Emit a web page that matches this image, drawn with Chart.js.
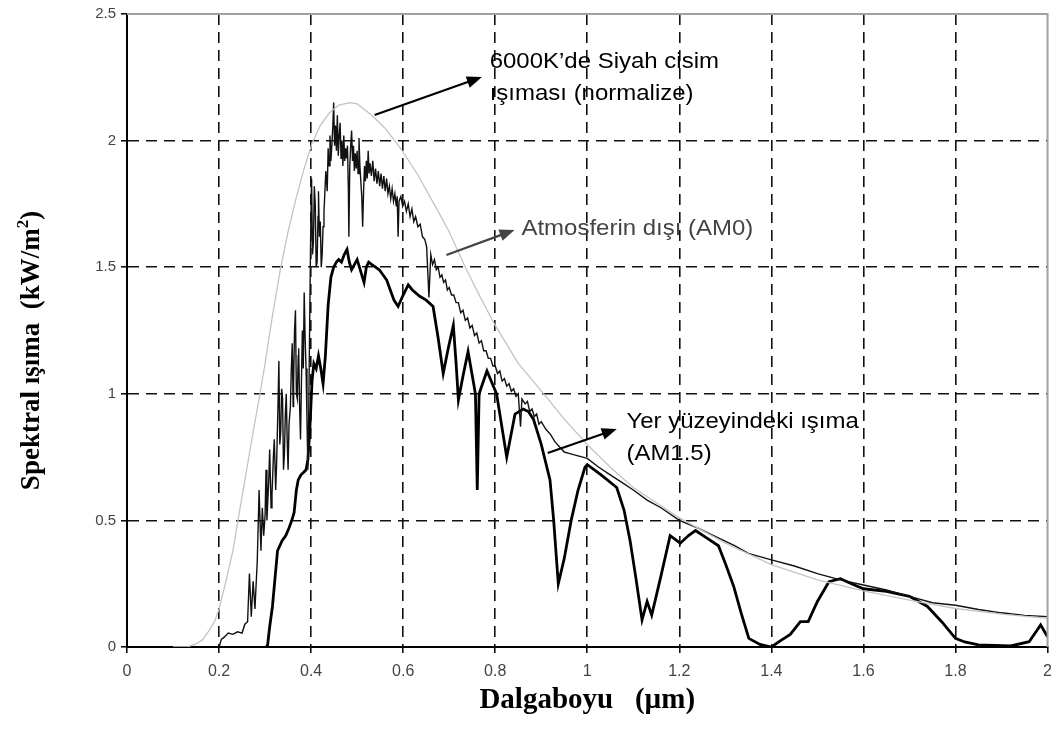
<!DOCTYPE html>
<html>
<head>
<meta charset="utf-8">
<script src="https://cdn.jsdelivr.net/npm/chart.js@4.4.1/dist/chart.umd.min.js"></script>
<style>
  html, body { margin: 0; padding: 0; background: #fff; }
</style>
</head>
<body>
<canvas id="spectrum" width="1061" height="742"></canvas>
<script>
// wavelength (µm) and spectral irradiance (kW/m2)

// 6000 K black body, normalized (light gray)
const bbWave = [0.10, 0.13, 0.15, 0.165, 0.18, 0.19, 0.20, 0.215, 0.23, 0.243, 0.26, 0.275, 0.287, 0.30,
  0.317, 0.334, 0.35, 0.367, 0.385, 0.402, 0.42, 0.44, 0.46, 0.484, 0.50, 0.532, 0.56, 0.594, 0.63,
  0.67, 0.70, 0.735, 0.768, 0.80, 0.85, 0.91, 0.95, 1.0, 1.05, 1.1, 1.15, 1.2, 1.3, 1.4, 1.5, 1.6,
  1.7, 1.8, 1.9, 2.0];
const bbValue = [0, 0, 0.012, 0.03, 0.07, 0.10, 0.15, 0.26, 0.38, 0.52, 0.70, 0.86, 0.98, 1.12,
  1.32, 1.50, 1.64, 1.77, 1.89, 1.99, 2.06, 2.11, 2.14, 2.15, 2.145, 2.10, 2.05, 1.97, 1.87,
  1.74, 1.64, 1.50, 1.38, 1.27, 1.12, 0.99, 0.90, 0.80, 0.71, 0.63, 0.57, 0.51, 0.41, 0.325, 0.265, 0.222,
  0.185, 0.152, 0.13, 0.113];

// outside the atmosphere, AM0 (thin black)
const am0Wave = [0.200, 0.205, 0.212, 0.220, 0.230, 0.240, 0.250, 0.256, 0.262, 0.266, 0.270, 0.274, 0.278,
  0.283, 0.287, 0.291, 0.294, 0.297, 0.300, 0.302, 0.304, 0.306, 0.308, 0.310, 0.313, 0.315, 0.318,
  0.320, 0.323, 0.325, 0.328, 0.330, 0.332, 0.334, 0.336, 0.338, 0.340, 0.342, 0.344, 0.346, 0.348,
  0.350, 0.352, 0.355, 0.357, 0.359, 0.361, 0.362, 0.364, 0.366, 0.368, 0.370, 0.372, 0.373, 0.375,
  0.377, 0.379, 0.381, 0.383, 0.385, 0.387, 0.389, 0.391, 0.393, 0.395, 0.397, 0.399, 0.401, 0.403,
  0.405, 0.407, 0.409, 0.411, 0.413, 0.415, 0.416, 0.418, 0.420, 0.422, 0.424, 0.426, 0.428, 0.430,
  0.432, 0.435, 0.437, 0.439, 0.441, 0.443, 0.445, 0.447, 0.449, 0.451, 0.453, 0.455, 0.457, 0.459,
  0.461, 0.463, 0.465, 0.467, 0.469, 0.471, 0.473, 0.475, 0.477, 0.479, 0.481, 0.482, 0.484, 0.486,
  0.488, 0.490, 0.492, 0.494, 0.496, 0.498, 0.500, 0.502, 0.504, 0.506, 0.508, 0.510, 0.512, 0.514,
  0.516, 0.518, 0.520, 0.522, 0.524, 0.526, 0.528, 0.531, 0.534, 0.537, 0.540, 0.543, 0.546, 0.549,
  0.552, 0.555, 0.558, 0.561, 0.564, 0.567, 0.570, 0.573, 0.576, 0.579, 0.582, 0.585, 0.587, 0.589,
  0.591, 0.595, 0.599, 0.603, 0.607, 0.611, 0.615, 0.619, 0.623, 0.627, 0.632, 0.637, 0.642, 0.647,
  0.651, 0.656, 0.660, 0.664, 0.668, 0.672, 0.676, 0.680, 0.684, 0.688, 0.692, 0.696, 0.700, 0.705,
  0.710, 0.715, 0.720, 0.725, 0.730, 0.735, 0.740, 0.745, 0.750, 0.755, 0.760, 0.765, 0.770, 0.775,
  0.780, 0.785, 0.790, 0.795, 0.800, 0.805, 0.810, 0.815, 0.820, 0.825, 0.830, 0.835, 0.840, 0.845,
  0.850, 0.855, 0.858, 0.865, 0.870, 0.875, 0.880, 0.885, 0.890, 0.895, 0.900, 0.910, 0.920, 0.930,
  0.940, 0.950, 0.960, 0.970, 0.980, 0.990, 1.000, 1.025, 1.050, 1.075, 1.100, 1.130, 1.160, 1.200,
  1.240, 1.280, 1.320, 1.350, 1.400, 1.450, 1.500, 1.550, 1.600, 1.650, 1.700, 1.750, 1.800, 1.850,
  1.900, 1.950, 2.000];
const am0Value = [0.00, 0.03, 0.04, 0.055, 0.05, 0.06, 0.055, 0.09, 0.10, 0.29, 0.12, 0.26, 0.15,
  0.34, 0.62, 0.38, 0.55, 0.44, 0.52, 0.70, 0.50, 0.58, 0.66, 0.78, 0.55, 0.60, 0.75,
  0.82, 0.62, 0.72, 0.95, 1.13, 0.80, 0.85, 1.02, 0.98, 0.70, 0.76, 0.92, 1.00, 0.82,
  0.70, 0.88, 0.95, 1.10, 1.20, 0.95, 1.05, 1.25, 1.33, 1.00, 0.98, 1.15, 1.18, 0.95,
  0.82, 1.05, 1.25, 1.10, 1.40, 1.22, 1.10, 0.90, 0.70, 0.95, 1.30, 1.62, 1.85, 1.55,
  1.60, 1.82, 1.75, 1.50, 1.52, 1.70, 1.80, 1.62, 1.68, 1.50, 1.55, 1.66, 1.72, 1.80,
  1.88, 1.80, 1.97, 1.90, 2.02, 1.92, 1.98, 2.05, 2.15, 1.98, 2.06, 1.96, 2.10, 1.94,
  2.02, 2.07, 1.93, 2.00, 1.90, 2.02, 1.92, 1.97, 1.93, 1.98, 1.80, 1.62, 1.90, 1.98,
  2.04, 1.92, 1.98, 1.88, 1.95, 1.89, 1.96, 1.87, 2.01, 1.90, 1.84, 1.78, 1.66, 1.80,
  1.90, 1.84, 1.92, 1.85, 1.96, 1.87, 1.91, 1.86, 1.92, 1.84, 1.89, 1.83, 1.88, 1.82,
  1.87, 1.81, 1.86, 1.80, 1.85, 1.79, 1.82, 1.77, 1.81, 1.76, 1.79, 1.74, 1.78, 1.62,
  1.76, 1.78, 1.74, 1.76, 1.72, 1.75, 1.70, 1.73, 1.68, 1.70, 1.66, 1.67, 1.62, 1.61,
  1.58, 1.38, 1.55, 1.51, 1.53, 1.49, 1.50, 1.46, 1.47, 1.44, 1.45, 1.41, 1.42, 1.39,
  1.39, 1.36, 1.36, 1.32, 1.33, 1.29, 1.30, 1.26, 1.27, 1.23, 1.24, 1.20, 1.21, 1.17,
  1.17, 1.14, 1.14, 1.11, 1.11, 1.08, 1.09, 1.05, 1.06, 1.03, 1.04, 1.01, 1.02, 0.99,
  1.00, 0.87, 0.98, 0.96, 0.97, 0.93, 0.94, 0.91, 0.92, 0.88, 0.89, 0.86, 0.84, 0.81,
  0.79, 0.77, 0.765, 0.76, 0.755, 0.75, 0.745, 0.71, 0.68, 0.65, 0.62, 0.58, 0.55, 0.50,
  0.47, 0.435, 0.40, 0.37, 0.344, 0.32, 0.29, 0.265, 0.245, 0.225, 0.20, 0.175, 0.165, 0.148,
  0.135, 0.125, 0.12];

// at the ground, AM1.5 (thick black)
const am15Wave = [0.300, 0.305, 0.310, 0.316, 0.322, 0.327, 0.332, 0.337, 0.345, 0.352, 0.358, 0.363,
  0.368, 0.372, 0.378, 0.384, 0.389, 0.393, 0.397, 0.402, 0.406, 0.411, 0.416, 0.421, 0.426, 0.431,
  0.437, 0.443, 0.449, 0.455, 0.460, 0.466, 0.472, 0.478, 0.483, 0.488, 0.494, 0.500, 0.505, 0.510,
  0.515, 0.520, 0.525, 0.532, 0.540, 0.548, 0.556, 0.564, 0.572, 0.580, 0.589, 0.600, 0.611, 0.620,
  0.636, 0.650, 0.665, 0.676, 0.687, 0.698, 0.709, 0.715, 0.720, 0.730, 0.741, 0.757, 0.761, 0.765,
  0.782, 0.803, 0.825, 0.843, 0.861, 0.872, 0.883, 0.900, 0.919, 0.927, 0.937, 0.950, 0.965, 0.980,
  0.995, 1.000, 1.030, 1.064, 1.080, 1.093, 1.105, 1.119, 1.130, 1.140, 1.160, 1.180, 1.202, 1.220,
  1.235, 1.260, 1.285, 1.300, 1.318, 1.335, 1.351, 1.375, 1.400, 1.420, 1.441, 1.463, 1.480, 1.500,
  1.525, 1.550, 1.574, 1.600, 1.650, 1.700, 1.739, 1.770, 1.800, 1.820, 1.850, 1.920, 1.960, 1.985,
  2.000];
const am15Value = [0.00, 0.00, 0.08, 0.16, 0.28, 0.38, 0.40, 0.42, 0.44, 0.47, 0.50, 0.53,
  0.62, 0.66, 0.68, 0.69, 0.70, 0.74, 0.85, 1.05, 1.12, 1.10, 1.15, 1.10, 1.04, 1.15,
  1.35, 1.46, 1.50, 1.52, 1.53, 1.52, 1.55, 1.57, 1.52, 1.49, 1.51, 1.53, 1.50, 1.47,
  1.44, 1.50, 1.52, 1.51, 1.50, 1.49, 1.47, 1.45, 1.41, 1.37, 1.345, 1.39, 1.43, 1.41,
  1.385, 1.37, 1.345, 1.22, 1.08, 1.18, 1.27, 1.12, 0.976, 1.07, 1.167, 1.00, 0.62, 1.00,
  1.09, 1.00, 0.75, 0.92, 0.94, 0.93, 0.90, 0.80, 0.66, 0.50, 0.25, 0.35, 0.50, 0.62,
  0.71, 0.72, 0.68, 0.63, 0.54, 0.42, 0.28, 0.107, 0.18, 0.126, 0.28, 0.44, 0.41, 0.44,
  0.46, 0.43, 0.40, 0.33, 0.24, 0.13, 0.034, 0.01, 0.00, 0.025, 0.05, 0.10, 0.10, 0.18,
  0.258, 0.27, 0.25, 0.23, 0.22, 0.20, 0.16, 0.10, 0.034, 0.02, 0.008, 0.004, 0.021, 0.087,
  0.04];

const xTickLabels = ['0', '0.2', '0.4', '0.6', '0.8', '1', '1.2', '1.4', '1.6', '1.8', '2'];
const yTickLabels = ['0', '0.5', '1', '1.5', '2', '2.5'];

// callouts, anchored in data units
const notes = [
  { lines: ['6000K’de Siyah cisim', 'ışıması (normalize)'], x: 0.788, y: [2.287, 2.160], color: '#000',
    from: [0.538, 2.101], to: [0.771, 2.251] },
  { lines: ['Atmosferin dışı (AM0)'], x: 0.857, y: [1.627], color: '#444',
    from: [0.694, 1.548], to: [0.842, 1.647] },
  { lines: ['Yer yüzeyindeki ışıma', '(AM1.5)'], x: 1.085, y: [0.864, 0.739], color: '#000',
    from: [0.914, 0.766], to: [1.064, 0.861] }
];

const toPoints = (xs, ys) => xs.map((x, i) => ({ x: x, y: ys[i] }));

function drawArrow(ctx, x1, y1, x2, y2, color) {
  const ang = Math.atan2(y2 - y1, x2 - x1);
  const head = 15, half = 6;
  ctx.save();
  ctx.strokeStyle = color;
  ctx.fillStyle = color;
  ctx.lineWidth = 2.2;
  ctx.beginPath();
  ctx.moveTo(x1, y1);
  ctx.lineTo(x2 - Math.cos(ang) * head * 0.8, y2 - Math.sin(ang) * head * 0.8);
  ctx.stroke();
  ctx.beginPath();
  ctx.moveTo(x2, y2);
  ctx.lineTo(x2 - Math.cos(ang) * head - Math.sin(ang) * half, y2 - Math.sin(ang) * head + Math.cos(ang) * half);
  ctx.lineTo(x2 - Math.cos(ang) * head + Math.sin(ang) * half, y2 - Math.sin(ang) * head - Math.cos(ang) * half);
  ctx.closePath();
  ctx.fill();
  ctx.restore();
}

// frame on top/right, callouts and the y title (needs a superscript)
const decorations = {
  id: 'decorations',
  afterDraw(chart) {
    const { ctx, chartArea: area, scales } = chart;
    const sx = scales.x, sy = scales.y;

    ctx.save();
    ctx.strokeStyle = '#a0a0a0';
    ctx.lineWidth = 2;
    ctx.beginPath();
    ctx.moveTo(area.left, area.top);
    ctx.lineTo(area.right, area.top);
    ctx.lineTo(area.right, area.bottom);
    ctx.stroke();
    ctx.restore();

    notes.forEach(n => {
      drawArrow(ctx, sx.getPixelForValue(n.from[0]), sy.getPixelForValue(n.from[1]),
        sx.getPixelForValue(n.to[0]), sy.getPixelForValue(n.to[1]), n.color);
      n.lines.forEach((line, i) => {
        ctx.save();
        ctx.translate(sx.getPixelForValue(n.x), sy.getPixelForValue(n.y[i]));
        ctx.scale(1.09, 1);
        ctx.font = '22px "Liberation Sans", Arial, sans-serif';
        ctx.fillStyle = n.color;
        ctx.textBaseline = 'alphabetic';
        ctx.textAlign = 'left';
        ctx.fillText(line, 0, 0);
        ctx.restore();
      });
    });

    // y axis title, rotated
    const main = 'Spektral ışıma  (kW/m', sup = '2', tail = ')';
    ctx.save();
    ctx.translate(39, (area.top + area.bottom) / 2 + 20);
    ctx.rotate(-Math.PI / 2);
    ctx.fillStyle = '#000';
    ctx.textBaseline = 'alphabetic';
    ctx.textAlign = 'left';
    const big = 'bold 27px "Liberation Serif", "Times New Roman", serif';
    const small = 'bold 17px "Liberation Serif", "Times New Roman", serif';
    ctx.font = big;
    const w1 = ctx.measureText(main).width, w3 = ctx.measureText(tail).width;
    ctx.font = small;
    const w2 = ctx.measureText(sup).width;
    let x = -(w1 + w2 + w3) / 2;
    ctx.font = big;
    ctx.fillText(main, x, 0);
    x += w1;
    ctx.font = small;
    ctx.fillText(sup, x, -11);
    x += w2;
    ctx.font = big;
    ctx.fillText(tail, x, 0);
    ctx.restore();
  }
};

const tickFont = { family: '"Liberation Sans", Arial, sans-serif', size: 15 };

new Chart(document.getElementById('spectrum').getContext('2d'), {
  type: 'line',
  data: {
    datasets: [
      { label: '6000K’de Siyah cisim ışıması (normalize)', data: toPoints(bbWave, bbValue),
        borderColor: '#c4c4c4', borderWidth: 1.3 },
      { label: 'Atmosferin dışı (AM0)', data: toPoints(am0Wave, am0Value),
        borderColor: '#111', borderWidth: 1.4 },
      { label: 'Yer yüzeyindeki ışıma (AM1.5)', data: toPoints(am15Wave, am15Value),
        borderColor: '#000', borderWidth: 2.8 }
    ]
  },
  options: {
    responsive: false,
    animation: false,
    devicePixelRatio: 1,
    layout: { padding: { top: 14, right: 13, left: 0, bottom: 0 } },
    elements: { point: { radius: 0 }, line: { tension: 0, fill: false } },
    plugins: { legend: { display: false }, tooltip: { enabled: false } },
    scales: {
      x: {
        type: 'linear', min: 0, max: 2,
        afterFit(scale) { scale.height = 95; },
        ticks: { stepSize: 0.2, color: '#444', font: { ...tickFont, size: 16 }, padding: 9,
          maxRotation: 0, autoSkip: false, callback: (v, i) => xTickLabels[i] },
        grid: {
          color: c => (c.index === 0 || c.index === 10) ? 'rgba(0,0,0,0)' : '#111',
          lineWidth: 1.6, tickLength: 6, tickColor: '#000', tickWidth: 1.5
        },
        border: { color: '#000', width: 2, dash: [11, 7] },
        title: {
          display: true, text: 'Dalgaboyu   (µm)', color: '#000',
          font: { family: '"Liberation Serif", "Times New Roman", serif', size: 29, weight: 'bold' },
          padding: { top: 0, bottom: 24 }
        }
      },
      y: {
        type: 'linear', min: 0, max: 2.5,
        afterFit(scale) { scale.width = 127; },
        ticks: { stepSize: 0.5, color: '#444', font: tickFont, padding: 5,
          callback: (v, i) => yTickLabels[i] },
        grid: {
          color: c => (c.index === 0 || c.index === 5) ? 'rgba(0,0,0,0)' : '#111',
          lineWidth: 1.6, tickLength: 6, tickColor: '#000', tickWidth: 1.5
        },
        border: { color: '#000', width: 2, dash: [11, 7] }
      }
    }
  },
  plugins: [decorations]
});
</script>
</body>
</html>
